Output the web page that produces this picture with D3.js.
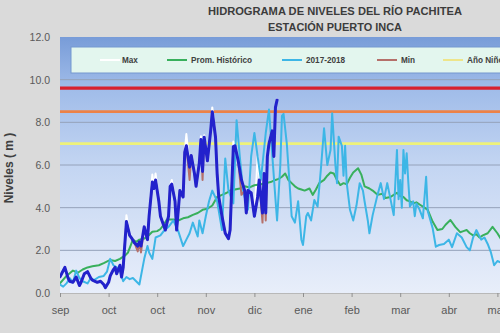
<!DOCTYPE html>
<html><head><meta charset="utf-8">
<script src="https://cdn.jsdelivr.net/npm/d3@7"></script>
<style>html,body{margin:0;padding:0;background:#d9d9d9;} svg{display:block;}</style>
</head><body>
<svg id="c" width="500" height="333"></svg>
<script>
// ---------- DATA ----------
const monthLabels = ["sep","oct","oct","nov","dic","ene","feb","mar","abr","may"];
const monthTickDays = [0,30,60,90,120,150,180,210,240,270];
const yTickValues = [0,2,4,6,8,10,12];
const thresholds = [9.6, 8.5, 7.0];
const legendNames = ["Max","Prom. Histórico","2017-2018","Min","Año Niño"];

// [days since 1 sep, level m]
const promHistorico = [[0,0.45],[4,0.8],[8,1.05],[11,0.95],[14,1.1],[17,1.2],[20,1.25],[24,1.3],[27,1.4],[31,1.55],[34,1.5],[37,1.6],[40,1.75],[42,1.9],[45,2.5],[47,2.4],[49,2.5],[52,2.55],[54,2.65],[57,2.87],[60,2.9],[62,3.0],[64,3.2],[66,3.45],[70,3.45],[73,3.4],[76,3.5],[79,3.55],[82,3.66],[85,3.75],[88,3.9],[91,3.95],[94,4.1],[97,4.5],[100,4.6],[103,4.7],[105,4.8],[108,4.85],[111,4.9],[114,5.0],[117,4.95],[120,5.05],[124,5.1],[127,5.15],[130,5.2],[133,5.3],[135,5.35],[137,5.45],[139,5.6],[141,5.3],[143,5.15],[145,5.0],[147,4.9],[149,4.85],[151,4.8],[154,4.9],[156,4.6],[158,4.85],[160,5.15],[163,5.3],[165,5.5],[167,5.65],[169,5.6],[171,5.3],[173,5.06],[175,5.15],[177,5.1],[179,5.4],[181,5.65],[184,5.85],[186,5.55],[188,5.0],[191,4.9],[193,4.8],[196,4.6],[199,4.65],[201,4.45],[204,4.5],[206,4.6],[208,4.7],[210,4.55],[212,4.5],[214,4.35],[216,4.3],[218,4.2],[220,4.25],[222,4.15],[225,4.0],[227,3.9],[230,3.35],[233,2.95],[236,3.0],[238,3.2],[241,3.42],[244,3.1],[247,2.85],[249,2.9],[251,2.95],[253,2.8],[255,2.7],[257,2.75],[259,2.6],[261,2.7],[264,2.8],[267,3.1],[270,2.8],[272,2.55],[275,2.5]];

const serie2017_2018 = [[0,0.4],[2,0.3],[4,0.45],[6,0.7],[8,0.5],[10,1.05],[12,0.7],[14,0.55],[17,0.45],[19,0.7],[21,0.6],[24,0.75],[27,0.8],[29,1.0],[31,1.6],[33,1.3],[35,1.2],[37,1.05],[39,0.55],[41,0.75],[43,0.65],[45,0.7],[47,0.55],[49,0.4],[51,1.2],[52,1.6],[54,2.2],[55,1.9],[57,1.6],[59,2.6],[62,2.7],[64,2.9],[67,3.1],[70,3.4],[73,2.9],[76,2.2],[78,2.5],[80,2.8],[82,3.3],[85,2.65],[86,3.4],[88,2.8],[90,3.6],[92,4.3],[94,4.8],[97,4.3],[100,2.95],[102,6.3],[104,4.8],[107,4.2],[109,8.1],[111,6.4],[113,4.8],[116,3.9],[118,6.4],[120,7.5],[122,6.4],[124,5.3],[127,7.5],[129,8.6],[131,6.5],[133,4.4],[134,3.4],[136,6.0],[137,8.3],[138,8.4],[140,7.0],[142,4.8],[143,3.6],[145,3.3],[147,4.3],[149,2.5],[150,2.25],[152,3.6],[153,3.75],[155,3.4],[157,4.36],[159,4.05],[161,5.77],[163,7.72],[165,6.0],[167,6.7],[168,8.42],[170,6.0],[171,5.15],[172,7.33],[174,6.9],[175,5.5],[176,6.9],[177,5.15],[179,3.9],[181,3.4],[183,4.1],[185,5.15],[187,4.8],[188,4.3],[190,3.4],[191,2.8],[193,3.65],[196,4.6],[198,5.15],[200,4.4],[202,5.15],[204,4.4],[206,3.65],[208,6.7],[209,4.4],[210,5.3],[211,4.0],[212,6.7],[213,5.6],[214,6.55],[215,5.2],[216,4.05],[218,4.3],[219,3.6],[220,4.2],[222,3.9],[224,3.5],[226,5.45],[227,3.85],[230,3.05],[232,2.17],[234,2.25],[237,2.3],[240,2.5],[242,2.15],[245,2.8],[248,2.6],[251,2.15],[253,2.0],[255,2.6],[257,2.95],[260,2.5],[262,2.6],[264,2.3],[266,1.9],[268,1.3],[270,1.5],[273,1.4]];

const serieAzul = [[0,0.76],[1,0.9],[3,1.2],[5,0.7],[6,0.55],[8,0.5],[10,0.75],[12,0.35],[13,0.5],[15,0.9],[17,1.0],[19,0.7],[20,0.6],[23,0.5],[25,0.55],[27,0.4],[28,0.25],[30,0.5],[31,0.8],[33,1.1],[34,1.2],[35,0.9],[37,1.3],[38,0.75],[39,1.2],[41,3.35],[43,2.7],[44,2.6],[46,2.35],[48,2.2],[49,2.4],[50,2.2],[52,3.1],[54,2.5],[55,3.6],[57,5.2],[58,4.9],[59,5.3],[61,4.3],[62,3.6],[65,2.95],[67,3.6],[68,5.0],[69,5.1],[71,4.3],[72,2.95],[74,4.8],[76,4.5],[77,6.6],[78,6.9],[80,5.9],[81,6.45],[83,5.6],[84,5.0],[86,6.1],[87,7.2],[88,5.7],[89,7.3],[91,6.2],[93,7.6],[94,8.5],[96,7.3],[97,5.6],[98,4.5],[100,3.6],[102,2.8],[104,2.55],[105,2.95],[107,6.86],[108,6.9],[110,6.2],[112,5.3],[114,4.8],[115,3.75],[116,4.8],[118,4.7],[120,3.6],[122,4.5],[123,5.3],[125,3.75],[126,5.6],[127,3.75],[128,6.4],[129,7.0],[131,7.6],[132,6.4],[133,8.7],[134,9.05]];

// Max / Min read where they show past the blue line
const maxPeaks = {41:3.65,57:5.55,59:5.6,69:5.3,78:7.45,87:7.35,89:7.4,94:8.7,107:7.1,122:6.4,123:5.5,129:7.1,134:9.1};
const minDips = {48:1.95,50:1.9,80:5.3,88:5.3,112:4.6,125:3.3,127:3.4};

// ---------- LAYOUT ----------
const svg = d3.select("#c");
const W = 500, H = 333;
const plot = {left:60, top:37, bottom:293};
const x = d3.scaleLinear().domain([0,365]).range([plot.left, plot.left + 365*1.62]);
const y = d3.scaleLinear().domain([0,12]).range([plot.bottom, plot.top]);
const FONT = "'Liberation Sans', Arial, sans-serif";

svg.append("rect").attr("width",W).attr("height",H).attr("fill","#dadada");

const defs = svg.append("defs");
const g1 = defs.append("linearGradient").attr("id","bg").attr("x1",0).attr("y1",0).attr("x2",0).attr("y2",1);
[[0,"#789cd8"],[0.2,"#a0bce9"],[0.5,"#c3d5f2"],[1,"#e8eefa"]].forEach(([o,c])=>g1.append("stop").attr("offset",o).attr("stop-color",c));
defs.append("clipPath").attr("id","clip").append("rect")
  .attr("x",plot.left).attr("y",plot.top).attr("width",W).attr("height",plot.bottom-plot.top);

svg.append("rect").attr("x",plot.left).attr("y",plot.top).attr("width",W).attr("height",plot.bottom-plot.top)
  .attr("fill","url(#bg)");

// gridlines
svg.append("g").selectAll("line").data(yTickValues.filter(v=>v>0 && v<12)).join("line")
  .attr("x1",plot.left).attr("x2",W).attr("y1",d=>y(d)).attr("y2",d=>y(d))
  .attr("stroke","#95a2ba").attr("stroke-width",1);

// threshold lines
const thrStyle = [{c:"#d8202e",w:3.2},{c:"#ec8248",w:2.6},{c:"#eef27a",w:2.6}];
svg.append("g").selectAll("line").data(thresholds).join("line")
  .attr("x1",plot.left).attr("x2",W).attr("y1",d=>y(d)).attr("y2",d=>y(d))
  .attr("stroke",(d,i)=>thrStyle[i].c).attr("stroke-width",(d,i)=>thrStyle[i].w);

// legend box
svg.append("rect").attr("x",71).attr("y",47).attr("width",460).attr("height",26)
  .attr("fill","#e3f6ee").attr("stroke","#7597cf").attr("stroke-width",1);

// series
const line = d3.line().x(d=>x(d[0])).y(d=>y(d[1])).curve(d3.curveLinear);
const gs = svg.append("g").attr("clip-path","url(#clip)");
const maxSerie = serieAzul.map(([d,v])=>[d, maxPeaks[d] ?? v]);
const minSerie = serieAzul.map(([d,v])=>[d, minDips[d] ?? v]);
const seriesDraw = [
  {data:maxSerie, c:"#ffffff", w:2},
  {data:promHistorico, c:"#38b05c", w:2},
  {data:serie2017_2018, c:"#3db6e6", w:2},
  {data:minSerie, c:"#b5706a", w:2},
  {data:serieAzul, c:"#2222cc", w:3},
];
seriesDraw.forEach(s=>{
  gs.append("path").datum(s.data).attr("d",line).attr("fill","none")
    .attr("stroke",s.c).attr("stroke-width",s.w).attr("stroke-linejoin","round").attr("stroke-linecap","round");
});

// legend items
const legColors = ["#ffffff","#38b05c","#3db6e6","#b5706a","#eee58a"];
const legX = [100,167,282,377,443];
const lg = svg.append("g");
legendNames.forEach((n,i)=>{
  lg.append("line").attr("x1",legX[i]).attr("x2",legX[i]+20).attr("y1",60).attr("y2",60)
    .attr("stroke",legColors[i]).attr("stroke-width",2);
  lg.append("text").attr("x",legX[i]+(i===0?22:24)).attr("y",63).text(n)
    .attr("font-family",FONT).attr("font-size",8.2).attr("font-weight","bold").attr("fill","#404040");
});

// axes
const yAxis = d3.axisLeft(y).tickValues(yTickValues).tickFormat(d3.format(".1f")).tickSize(0).tickPadding(10);
const ya = svg.append("g").attr("transform",`translate(${plot.left},0)`).call(yAxis);
ya.select(".domain").remove();
ya.selectAll("text").attr("font-family",FONT).attr("font-size",10.5).attr("fill","#595959");

const xAxis = d3.axisBottom(x).tickValues(monthTickDays).tickFormat((d,i)=>monthLabels[i]).tickSize(4).tickPadding(9);
const xa = svg.append("g").attr("transform",`translate(0,${plot.bottom})`).call(xAxis);
xa.select(".domain").attr("stroke","#b8b8b8");
xa.selectAll(".tick line").attr("stroke","#909090");
xa.selectAll("text").attr("font-family",FONT).attr("font-size",11).attr("fill","#595959");

// titles
svg.append("text").attr("x",335).attr("y",15).attr("text-anchor","middle")
  .attr("font-family",FONT).attr("font-size",10.5).attr("font-weight","bold").attr("fill","#3c3c3c")
  .attr("textLength",254).attr("lengthAdjust","spacingAndGlyphs")
  .text("HIDROGRAMA DE NIVELES DEL RÍO PACHITEA");
svg.append("text").attr("x",335).attr("y",31).attr("text-anchor","middle")
  .attr("font-family",FONT).attr("font-size",10.5).attr("font-weight","bold").attr("fill","#3c3c3c")
  .attr("textLength",134).attr("lengthAdjust","spacingAndGlyphs")
  .text("ESTACIÓN PUERTO INCA");
svg.append("text").attr("transform","translate(13,168) rotate(-90)").attr("text-anchor","middle")
  .attr("font-family",FONT).attr("font-size",12).attr("font-weight","bold").attr("fill","#404040")
  .text("Niveles ( m )");
</script>
</body></html>
